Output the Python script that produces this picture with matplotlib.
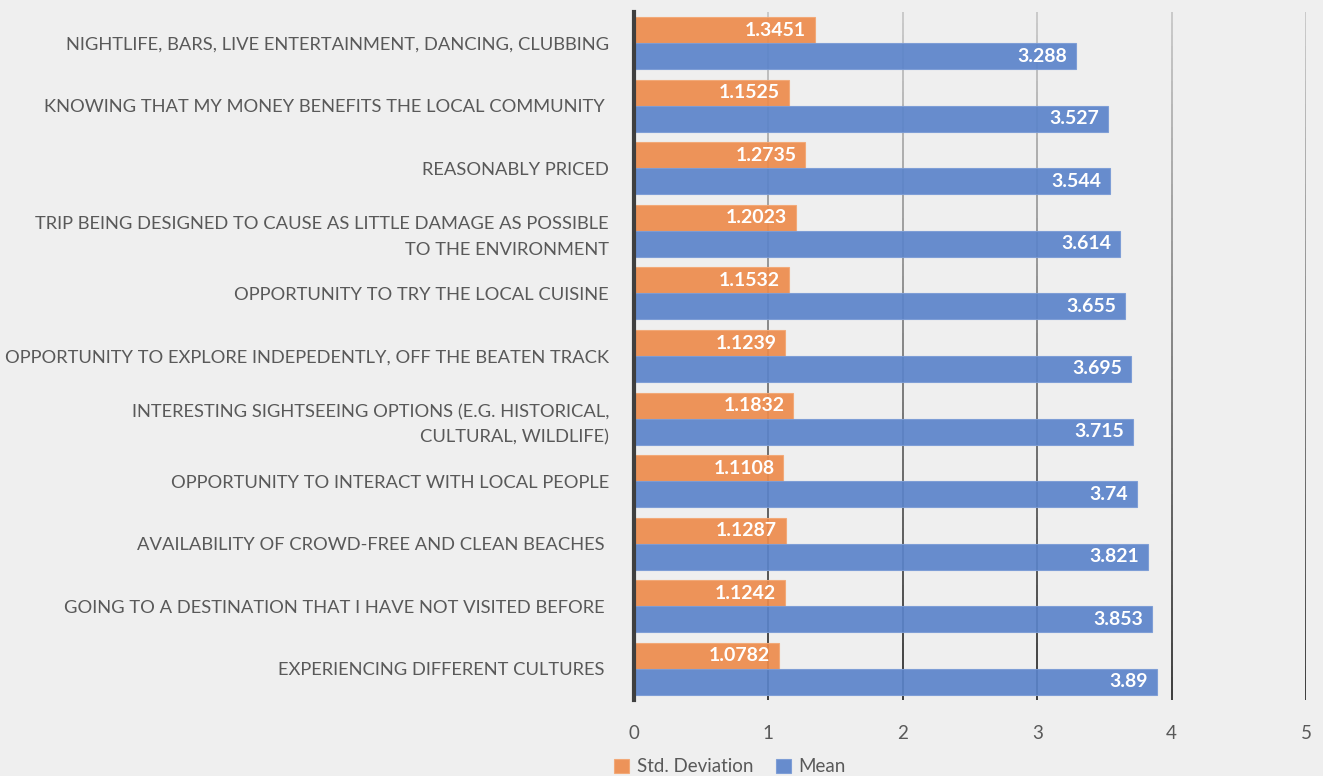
import numpy as np
import matplotlib.pyplot as plt
from matplotlib.collections import LineCollection

plt.rcParams['font.family'] = ['Lato', 'DejaVu Sans']

# Survey items, top to bottom
categories = [
    "NIGHTLIFE, BARS, LIVE ENTERTAINMENT, DANCING, CLUBBING",
    "KNOWING THAT MY MONEY BENEFITS THE LOCAL COMMUNITY ",
    "REASONABLY PRICED",
    "TRIP BEING DESIGNED TO CAUSE AS LITTLE DAMAGE AS POSSIBLE\nTO THE ENVIRONMENT",
    "OPPORTUNITY TO TRY THE LOCAL CUISINE",
    "OPPORTUNITY TO EXPLORE INDEPEDENTLY, OFF THE BEATEN TRACK",
    "INTERESTING SIGHTSEEING OPTIONS (E.G. HISTORICAL,\nCULTURAL, WILDLIFE)",
    "OPPORTUNITY TO INTERACT WITH LOCAL PEOPLE",
    "AVAILABILITY OF CROWD-FREE AND CLEAN BEACHES ",
    "GOING TO A DESTINATION THAT I HAVE NOT VISITED BEFORE ",
    "EXPERIENCING DIFFERENT CULTURES ",
]
std_dev = [1.3451, 1.1525, 1.2735, 1.2023, 1.1532, 1.1239, 1.1832, 1.1108, 1.1287, 1.1242, 1.0782]
mean = [3.288, 3.527, 3.544, 3.614, 3.655, 3.695, 3.715, 3.74, 3.821, 3.853, 3.89]
std_labels = ["1.3451", "1.1525", "1.2735", "1.2023", "1.1532", "1.1239", "1.1832", "1.1108", "1.1287", "1.1242", "1.0782"]
mean_labels = ["3.288", "3.527", "3.544", "3.614", "3.655", "3.695", "3.715", "3.74", "3.821", "3.853", "3.89"]

bg = '#efefef'
orange = '#ed8b4c'
blue = '#5b84ca'
text_col = '#595959'

fig = plt.figure(figsize=(13.23, 7.76), dpi=100, facecolor=bg)
ax = fig.add_axes([634 / 1323, 1 - 700 / 776, 672 / 1323, 688 / 776])
ax.set_facecolor(bg)

n = len(categories)
y = np.arange(n)
h = 0.415

# vertical gridlines fading from light gray at the top to near-black at the bottom
steps = 60
ys = np.linspace(-0.5, n - 0.5, steps + 1)
light = np.array([0.78, 0.78, 0.78])
dark = np.array([0.18, 0.18, 0.18])
for gx in [1, 2, 3, 4, 5]:
    segs = [[(gx, ys[i]), (gx, ys[i + 1])] for i in range(steps)]
    t = np.linspace(0, 1, steps)[:, None]
    cols = light * (1 - t) + dark * t
    ax.add_collection(LineCollection(segs, colors=cols, linewidths=1.3, zorder=1))

ax.barh(y - h / 2, std_dev, height=h, color=orange, alpha=0.92, edgecolor='#f3a775',
        linewidth=0.8, zorder=2, label='Std. Deviation')
ax.barh(y + h / 2, mean, height=h, color=blue, alpha=0.92, edgecolor='#7b9cd6',
        linewidth=0.8, zorder=2, label='Mean')

for i in range(n):
    ax.text(std_dev[i] - 0.065, y[i] - h / 2, std_labels[i], color='white', fontsize=14,
            fontweight='bold', ha='right', va='center', zorder=3)
    ax.text(mean[i] - 0.065, y[i] + h / 2, mean_labels[i], color='white', fontsize=14,
            fontweight='bold', ha='right', va='center', zorder=3)

ax.set_xlim(0, 5)
ax.set_ylim(n - 0.5, -0.5)
ax.set_xticks([0, 1, 2, 3, 4, 5])
ax.set_xticklabels(['0', '1', '2', '3', '4', '5'], fontsize=13.5, color=text_col)
ax.set_yticks(y)
ax.set_yticklabels(categories, fontsize=13.2, color=text_col, linespacing=1.7)
ax.tick_params(axis='both', length=0)
ax.tick_params(axis='x', pad=18)
ax.tick_params(axis='y', pad=18)
for side in ['top', 'right', 'bottom']:
    ax.spines[side].set_visible(False)
ax.spines['left'].set_color('#3f3f3f')
ax.spines['left'].set_linewidth(3)
ax.spines['left'].set_zorder(4)

ax.legend(loc='center', bbox_to_anchor=(730 / 1323, 1 - 767 / 776),
          bbox_transform=fig.transFigure, ncol=2, frameon=False, fontsize=13.5,
          handlelength=0.8, handleheight=0.8, handletextpad=0.4, columnspacing=1.2,
          labelcolor=text_col)

fig.savefig('out.png', dpi=100, facecolor=bg)
